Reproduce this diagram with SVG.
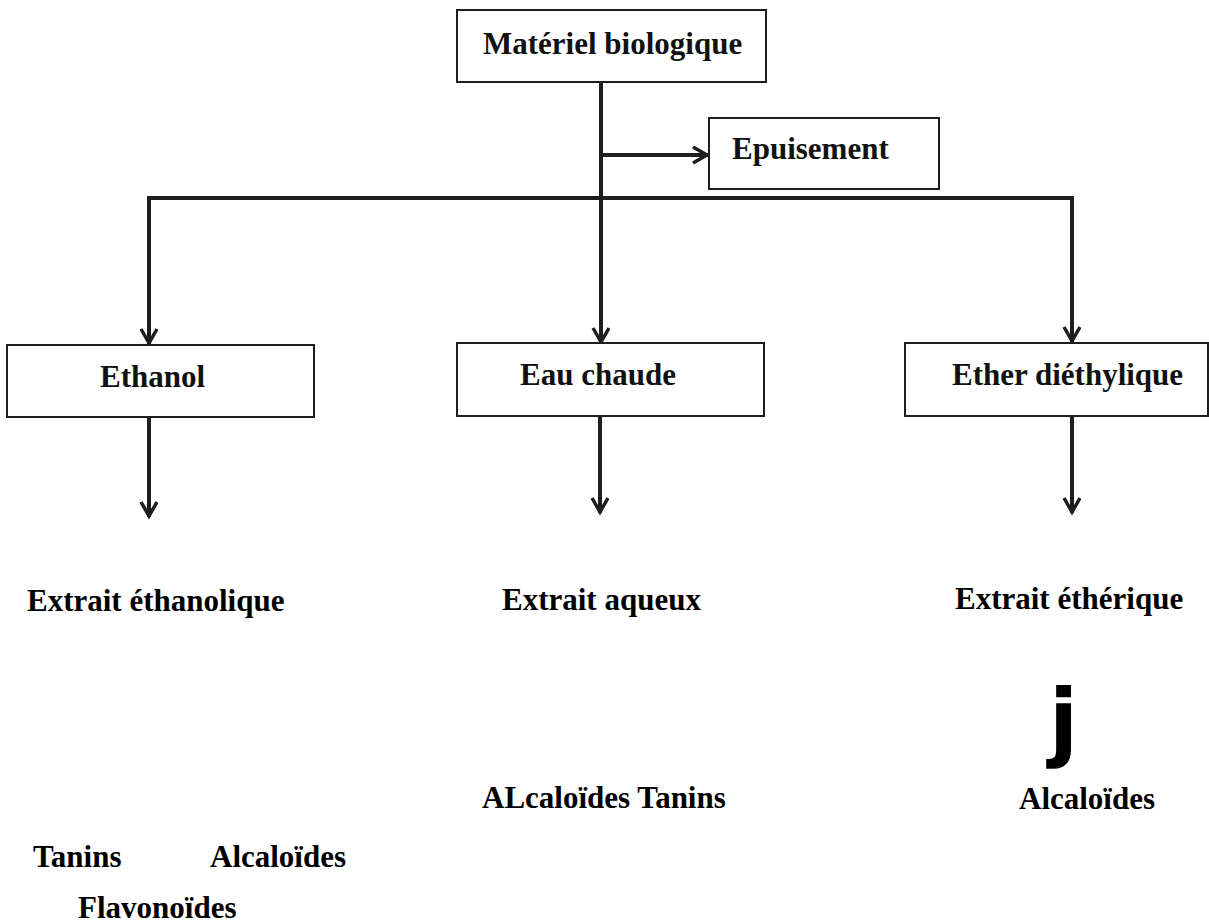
<svg xmlns="http://www.w3.org/2000/svg" width="1209" height="924" viewBox="0 0 1209 924">
  <style>
    .box { fill: #ffffff; stroke: #1e1e1e; stroke-width: 2; }
    .lbl { font-family: "Liberation Serif", "Times New Roman", serif; font-weight: bold; font-size: 31px; fill: #111111; }
    .txt { font-family: "Liberation Serif", "Times New Roman", serif; font-weight: bold; font-size: 31px; fill: #000000; }
    .edge { fill: none; stroke: #1e1e1e; stroke-width: 4; }
  </style>
  <defs>
    <marker id="arrow" markerUnits="userSpaceOnUse" markerWidth="22" markerHeight="22" refX="17" refY="9" orient="auto">
      <path d="M2,1 L16,9 L2,17" fill="none" stroke="#1e1e1e" stroke-width="3.5"/>
    </marker>
  </defs>

  <g id="connectors">
    <line class="edge" x1="601" y1="82" x2="601" y2="343" marker-end="url(#arrow)"/>
    <line class="edge" x1="601" y1="155" x2="708" y2="155" marker-end="url(#arrow)"/>
    <line class="edge" x1="149" y1="198" x2="1072" y2="198"/>
    <line class="edge" x1="149" y1="196" x2="149" y2="344" marker-end="url(#arrow)"/>
    <line class="edge" x1="1072" y1="196" x2="1072" y2="342" marker-end="url(#arrow)"/>
    <line class="edge" x1="149" y1="417" x2="149" y2="517" marker-end="url(#arrow)"/>
    <line class="edge" x1="600" y1="416" x2="600" y2="513" marker-end="url(#arrow)"/>
    <line class="edge" x1="1072" y1="416" x2="1072" y2="513" marker-end="url(#arrow)"/>
  </g>

  <g id="node-materiel">
    <rect class="box" x="457" y="10" width="309" height="72"/>
    <text class="lbl" x="483" y="54">Matériel biologique</text>
  </g>
  <g id="node-epuisement">
    <rect class="box" x="709" y="118" width="230" height="71"/>
    <text class="lbl" x="732" y="159">Epuisement</text>
  </g>
  <g id="node-ethanol">
    <rect class="box" x="7" y="345" width="307" height="72"/>
    <text class="lbl" x="100" y="387">Ethanol</text>
  </g>
  <g id="node-eau">
    <rect class="box" x="457" y="343" width="307" height="73"/>
    <text class="lbl" x="520" y="385">Eau chaude</text>
  </g>
  <g id="node-ether">
    <rect class="box" x="905" y="343" width="303" height="73"/>
    <text class="lbl" x="952" y="385">Ether diéthylique</text>
  </g>

  <g id="results">
    <text class="txt" x="27" y="611">Extrait éthanolique</text>
    <text class="txt" x="502" y="610">Extrait aqueux</text>
    <text class="txt" x="955" y="609">Extrait éthérique</text>
    <text x="1049" y="750" font-family="DejaVu Sans, sans-serif" font-weight="bold" font-size="85" fill="#000000">j</text>
    <text class="txt" x="482" y="808">ALcaloïdes Tanins</text>
    <text class="txt" x="1019" y="809">Alcaloïdes</text>
    <text class="txt" x="33" y="867">Tanins</text>
    <text class="txt" x="210" y="867">Alcaloïdes</text>
    <text class="txt" x="78" y="918">Flavonoïdes</text>
  </g>
</svg>
